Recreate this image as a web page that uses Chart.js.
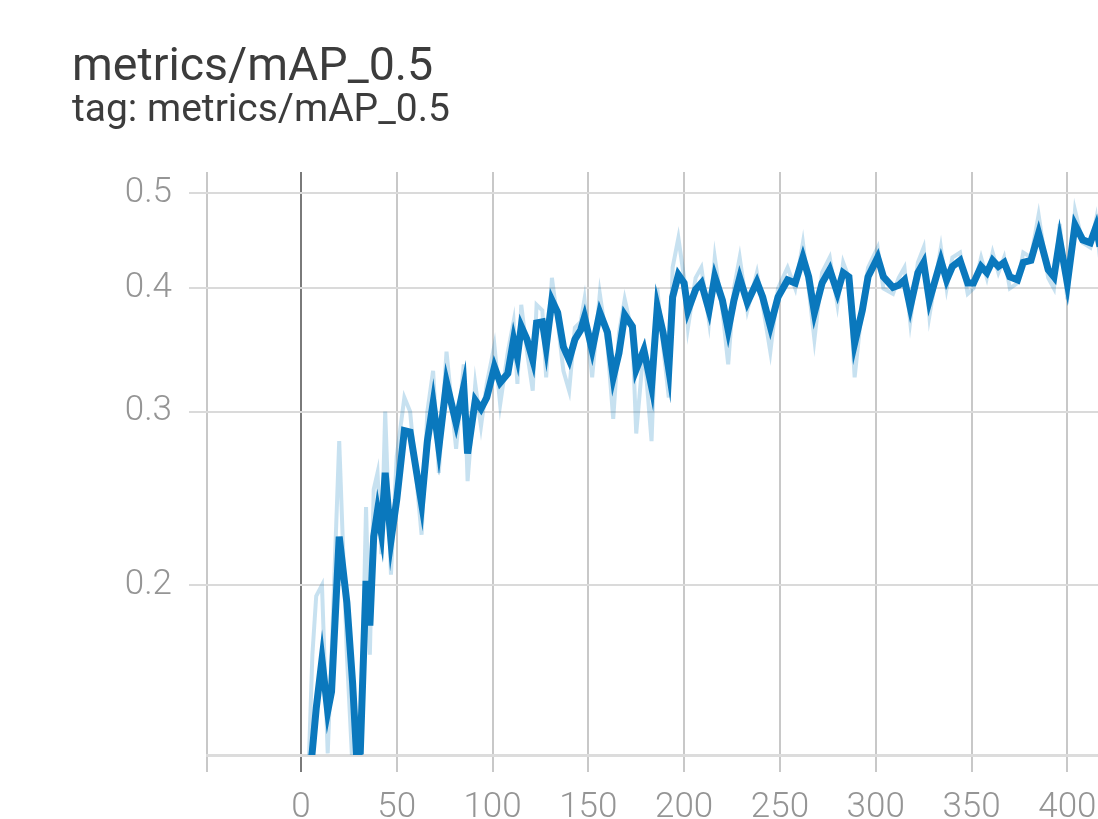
<!DOCTYPE html>
<html>
<head>
<meta charset="utf-8">
<script src="https://cdn.jsdelivr.net/npm/chart.js@4.4.1/dist/chart.umd.min.js"></script>
<style>
  html, body { margin: 0; padding: 0; background: #fff; }
  #wrap { position: relative; width: 1098px; height: 819px; overflow: hidden; }
  #chart { position: absolute; left: 0; top: 0; }
  .title { position: absolute; left: 72px; font-family: Roboto, "Noto Sans", sans-serif; line-height: 1; white-space: nowrap; }
  #t1 { top: 41px; font-size: 46.5px; color: #3c3c3c; }
  #t2 { top: 89px; font-size: 39px; color: #3c3c3c; }
</style>
</head>
<body>
<div id="wrap">
  <canvas id="chart" width="1098" height="819"></canvas>
  <div class="title" id="t1">metrics/mAP_0.5</div>
  <div class="title" id="t2">tag: metrics/mAP_0.5</div>
</div>
<script>
// epochs on the x axis
var steps = [4,6,8,11,14,16,20,24,27,29,
  31,34,36,38,40,42,44,47,50,54,
  57,63,66,69,72,76,81,85,87,91,
  94,97,101,104,108,111,113,115,118,121,
  123,126,128,131,134,137,140,143,146,148,
  152,156,160,163,166,169,173,175,179,183,
  186,189,192,194,197,200,202,206,209,213,
  216,220,223,226,229,233,238,241,245,249,
  254,258,262,265,268,272,276,280,283,286,
  289,293,296,301,304,309,312,315,318,322,
  325,328,334,337,340,344,348,351,355,358,
  361,364,367,370,374,377,381,385,390,393,
  396,400,404,408,412,415,417,420];

// smoothed mAP (dark line)
var smoothed = [.125,.136,.150,.168,.149,.156,.224,.192,.159,.135,
  .1355,.202,.182,.224,.238,.226,.260,.222,.244,.287,
  .286,.242,.280,.306,.276,.321,.292,.318,.272,.308,
  .302,.310,.333,.321,.328,.355,.341,.366,.355,.3385,
  .369,.370,.349,.389,.378,.349,.3385,.355,.363,.374,
  .3465,.378,.361,.325,.344,.376,.366,.331,.3465,.318,
  .383,.361,.331,.392,.413,.405,.380,.399,.405,.380,
  .411,.389,.363,.389,.410,.387,.406,.392,.366,.392,
  .408,.405,.430,.411,.378,.405,.418,.396,.415,.411,
  .352,.380,.411,.430,.411,.401,.403,.408,.383,.415,
  .425,.389,.427,.408,.421,.427,.405,.405,.421,.415,
  .427,.421,.425,.411,.408,.425,.427,.455,.418,.411,
  .448,.405,.464,.448,.445,.462,.441,.450];

// raw mAP (faint line)
var raw = [.13,.17,.195,.20,.135,.17,.28,.17,.13,.125,
  .13,.24,.17,.25,.26,.215,.30,.205,.27,.31,
  .30,.225,.30,.33,.26,.345,.275,.335,.255,.32,
  .29,.32,.35,.305,.345,.37,.32,.385,.345,.315,
  .385,.38,.325,.41,.37,.33,.315,.365,.37,.39,
  .325,.395,.35,.295,.36,.39,.36,.285,.35,.28,
  .40,.35,.31,.42,.45,.41,.365,.41,.42,.37,
  .43,.38,.335,.40,.43,.38,.415,.385,.345,.40,
  .42,.40,.445,.40,.355,.415,.43,.385,.425,.41,
  .325,.385,.42,.44,.40,.395,.41,.42,.37,.425,
  .44,.375,.44,.40,.43,.435,.395,.40,.43,.41,
  .435,.415,.43,.40,.405,.435,.43,.475,.41,.40,
  .465,.39,.48,.445,.44,.47,.43,.46];

var yTicks = [0.2, 0.3, 0.4, 0.5];
var xTicks = [-49, 0, 50, 100, 150, 200, 250, 300, 350, 400];

function pts(vals) {
  return steps.map(function(s, i) { return {x: s, y: vals[i]}; });
}

var tickFont = {family: "Roboto", size: 35, weight: 300};

var canvas = document.getElementById("chart");
var chart = new Chart(canvas, {
  type: "line",
  data: {
    datasets: [{
      data: pts(smoothed),
      borderColor: "#0a78bd",
      borderWidth: 7,
      pointRadius: 0,
      tension: 0
    }, {
      data: pts(raw),
      borderColor: "rgba(0,119,187,0.22)",
      borderWidth: 4,
      pointRadius: 0,
      tension: 0
    }]
  },
  options: {
    responsive: false,
    animation: false,
    layout: {padding: {top: 172, right: 0, left: 0, bottom: 0}},
    plugins: {legend: {display: false}, tooltip: {enabled: false}},
    scales: {
      x: {
        type: "linear",
        min: -49,
        max: 416,
        afterBuildTicks: function(scale) {
          scale.ticks = xTicks.map(function(v) { return {value: v}; });
        },
        afterFit: function(scale) {
          scale.height = 64;
          scale.paddingLeft = 0;
          scale.paddingRight = 0;
        },
        ticks: {
          font: tickFont,
          color: "#959595",
          padding: 15,
          maxRotation: 0,
          autoSkip: false,
          callback: function(v) { return v < 0 ? "" : String(v); }
        },
        grid: {
          color: function(ctx) { return ctx.tick && ctx.tick.value === 0 ? "#7a7a7a" : "#c8c8c8"; },
          lineWidth: 2,
          tickLength: 17
        },
        border: {display: true, color: "#dcdcdc", width: 3}
      },
      y: {
        type: "logarithmic",
        min: 0.1345,
        max: 0.525,
        afterBuildTicks: function(scale) {
          scale.ticks = yTicks.map(function(v) { return {value: v}; });
        },
        afterFit: function(scale) {
          scale.width = 207;
          scale.paddingTop = 0;
          scale.paddingBottom = 0;
        },
        ticks: {
          font: tickFont,
          color: "#959595",
          padding: 17,
          callback: function(v) { return String(v); }
        },
        grid: {
          color: "#dadada",
          lineWidth: 2,
          tickLength: 18
        },
        border: {display: false}
      }
    }
  }
});
</script>
</body>
</html>
